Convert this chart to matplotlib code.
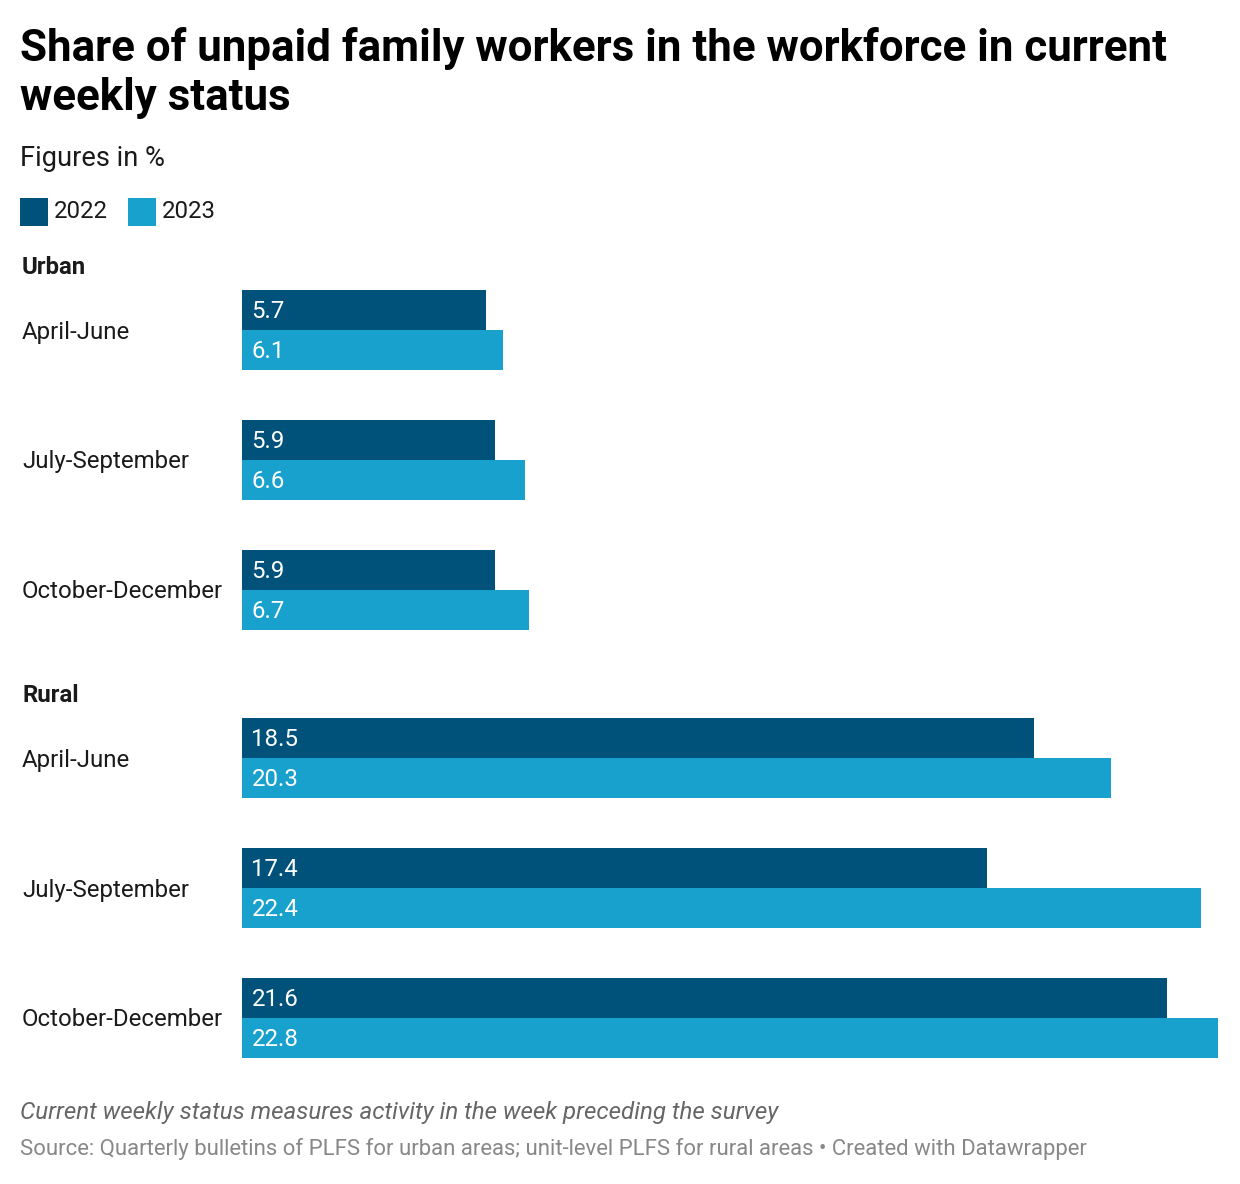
import matplotlib
matplotlib.use("Agg")
import matplotlib.pyplot as plt

sections = ["Urban", "Rural"]
periods = ["April-June", "July-September", "October-December"]
v2022 = {"Urban": [5.7, 5.9, 5.9], "Rural": [18.5, 17.4, 21.6]}
v2023 = {"Urban": [6.1, 6.6, 6.7], "Rural": [20.3, 22.4, 22.8]}
years = ["2022", "2023"]
colors = ["#00527a", "#18a1cd"]

title_lines = ["Share of unpaid family workers in the workforce in current", "weekly status"]
subtitle = "Figures in %"
note = "Current weekly status measures activity in the week preceding the survey"
source = "Source: Quarterly bulletins of PLFS for urban areas; unit-level PLFS for rural areas • Created with Datawrapper"

W, H = 1240, 1184
plt.rcParams['font.family'] = ['Roboto', 'DejaVu Sans']
fig = plt.figure(figsize=(W / 100, H / 100), dpi=100)

def fy(y):
    return 1 - y / H

def fx(x):
    return x / W

x0, x1 = 242, 1218
xmax = max(max(v2022[s] + v2023[s]) for s in sections)
ax = fig.add_axes([fx(x0), 0, (x1 - x0) / W, 1])
ax.set_xlim(0, xmax)
ax.set_ylim(H, 0)
ax.axis("off")

fs = 17.3
bar_h = 40
first_top = {"Urban": 290, "Rural": 718}
pitch = 130
for s in sections:
    fig.text(fx(22), fy(first_top[s] - 23), s, fontsize=fs, fontweight="bold",
             va="center", ha="left", color="#1a1a1a")
    for i, p in enumerate(periods):
        top = first_top[s] + pitch * i
        for j, vals in enumerate([v2022[s], v2023[s]]):
            yc = top + bar_h / 2 + j * bar_h
            ax.barh(yc, vals[i], height=bar_h, color=colors[j], linewidth=0)
            ax.text(0.22, yc + 1, f"{vals[i]:.1f}", color="white", fontsize=fs,
                    va="center", ha="left")
        fig.text(fx(22), fy(top + bar_h + 2), p, fontsize=fs, va="center", ha="left",
                 color="#1a1a1a")

for k, line in enumerate(title_lines):
    fig.text(fx(20), fy(61 + 49 * k), line, fontsize=31.6, fontweight="bold",
             va="baseline", ha="left", color="#000000")
fig.text(fx(20), fy(158), subtitle, fontsize=19.6, va="center", ha="left", color="#1a1a1a")

# legend
lx = 20
for j, y in enumerate(years):
    fig.patches.append(plt.Rectangle((fx(lx), fy(226)), 28 / W, 28 / H,
                                     transform=fig.transFigure, color=colors[j], linewidth=0))
    fig.text(fx(lx + 34), fy(211), y, fontsize=fs, va="center", ha="left", color="#1a1a1a")
    lx += 108

fig.text(fx(20), fy(1113), note, fontsize=17.4, style="italic", va="center", ha="left",
         color="#666666")
fig.text(fx(20), fy(1149), source, fontsize=15.9, va="center", ha="left", color="#888888")

fig.savefig("out.png", dpi=100, facecolor="white")
